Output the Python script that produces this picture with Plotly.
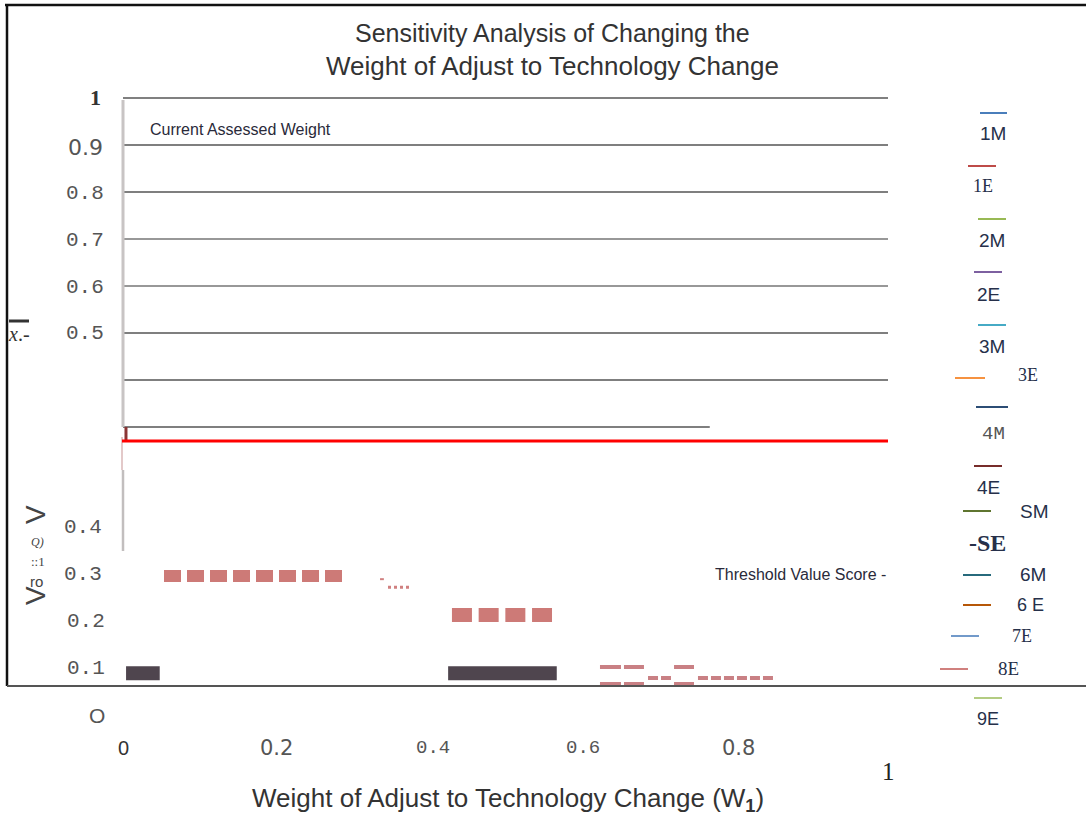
import plotly.graph_objects as go

# ---------------- data ----------------
# lower "score" axis series
bar_x = [0.004, 0.048, None, 0.425, 0.567]
bar_y = [0.089, 0.089, None, 0.089, 0.089]

row03_x = [0.0536, 0.2863]
row03_y = [0.2957, 0.2957]
tick_x = [0.336, 0.341]
tick_y = [0.289, 0.289]
dots_x = [0.3464, 0.3739]
dots_y = [0.272, 0.272]

row02_x = [0.430, 0.5608]
row02_y = [0.2128, 0.2128]

rowA_x = [0.6235, 0.6810, None, 0.7203, 0.7464]
rowA_y = [0.1021, 0.1021, None, 0.1021, 0.1021]
rowB_x = [0.6235, 0.6810, None, 0.7203, 0.7464]
rowB_y = [0.0660, 0.0660, None, 0.0660, 0.0660]
rowC_x = [0.6863, 0.7163, None, 0.7516, 0.8536]
rowC_y = [0.0787, 0.0787, None, 0.0787, 0.0787]

# upper grid axis series
grid_vals = [1.0, 0.9, 0.8, 0.7, 0.6, 0.5, 0.4]
grid_partial_val = 0.3
grid_partial_end = 0.767
current_weight = 0.0
vert_gray1 = [0.9957, 0.30]
vert_pink = [0.2787, 0.2085]
vert_gray2 = [0.2085, 0.0362]
vert_dark = [0.30, 0.2702]
red_level = 0.2702

legend_names = ["1M", "1E", "2M", "2E", "3M", "3E", "4M", "4E", "SM", "-SE",
                "6M", "6E", "7E", "8E", "9E"]
legend_colors = ["#4a7ebb", "#be4b48", "#98b954", "#7d60a0", "#46aac5", "#f69240",
                 "#2c4d75", "#772c2a", "#5f7530", None, "#276a7c", "#b65708",
                 "#729aca", "#d0807e", "#b3cc82"]

title_lines = ["Sensitivity Analysis of Changing the",
               "Weight of Adjust to Technology Change"]
x_title = "Weight of Adjust to Technology Change (W<sub><b>1</b></sub>)"

# ---------------- layout helpers ----------------
W, H = 1086, 817
X0PX, XSCALE = 123, 765
def xr():
    return [-X0PX / XSCALE, (W - X0PX) / XSCALE]
def yr(zero_px):
    return [(zero_px - H) / 470, zero_px / 470]

def px(x):
    return x / W
def py(y):
    return 1 - y / H

SANS = "Liberation Sans, Arial, sans-serif"
SERIF = "Liberation Serif, Times New Roman, serif"
MONO = "Liberation Mono, DejaVu Sans Mono, monospace"
DSANS = "DejaVu Sans, sans-serif"

fig = go.Figure()

def line(x, y, color, width, dash="solid", axis="y"):
    fig.add_trace(go.Scatter(x=x, y=y, mode="lines", yaxis=axis,
                             line=dict(color=color, width=width, dash=dash),
                             hoverinfo="skip", showlegend=False, connectgaps=False))

# upper gridlines
for i, v in enumerate(grid_vals):
    col = "#808080" if i == 0 else ("#333333" if i in (3, 4) else "#000000")
    w = 2.2 if i == 0 else 1.1
    line([0, 1], [v, v], col, w, axis="y2")
line([0, grid_partial_end], [grid_partial_val, grid_partial_val], "#555555", 1.5, axis="y2")

# verticals & red line
line([current_weight, current_weight], vert_gray1, "#c8c4c4", 3, axis="y2")
line([current_weight - 0.0013, current_weight - 0.0013], vert_pink, "#e3c9c9", 2, axis="y2")
line([current_weight, current_weight], vert_gray2, "#c2bebe", 2.5, axis="y2")
line([current_weight + 0.0039, current_weight + 0.0039], vert_dark, "#8b3535", 3, axis="y2")
line([current_weight - 0.0013, 1.0], [red_level, red_level], "#ff0000", 3, axis="y2")

# lower series
line(bar_x, bar_y, "#4f454e", 14)
line(row03_x, row03_y, "#cd7a77", 12, dash="17px,6px")
line(tick_x, tick_y, "#d08080", 2)
line(dots_x, dots_y, "#d08080", 3, dash="dot")
line(row02_x, row02_y, "#cd7a77", 14, dash="20px,6.7px")
line(rowA_x, rowA_y, "#c98084", 4, dash="21px,3px")
line(rowB_x, rowB_y, "#c98084", 4, dash="21px,3px")
line(rowC_x, rowC_y, "#c98084", 4, dash="10px,3px")

shapes = []
def seg(x0, y0, x1, y1, color, width):
    shapes.append(dict(type="line", xref="paper", yref="paper",
                       x0=px(x0), y0=py(y0), x1=px(x1), y1=py(y1),
                       line=dict(color=color, width=width)))

# frame
seg(5, 5, W, 5, "#111111", 2.5)
seg(7, 5, 7, 686, "#111111", 2.5)
seg(7, 686, W, 686, "#555555", 2)

annotations = []
def text(t, x, y, size, family=SANS, color="#555555", xanchor="center", angle=0):
    annotations.append(dict(text=t, x=px(x), y=py(y), xref="paper", yref="paper",
                            showarrow=False, xanchor=xanchor, yanchor="middle",
                            textangle=angle,
                            font=dict(size=size, family=family, color=color)))

# titles
text(title_lines[0], 552, 33, 25, color="#333333")
text(title_lines[1], 552, 66, 26, color="#333333")
text(x_title, 508, 799, 26, color="#333333")

# y tick labels
text("<b>1</b>", 95, 98, 22, SERIF, "#333333")
text("0.9", 85, 147, 22, DSANS, "#555555")
for lab, yy in zip(["0.8", "0.7", "0.6", "0.5"], [193, 240, 287, 333]):
    text(lab, 85, yy, 21, MONO, "#555555")
for lab, xx, yy in zip(["0.4", "0.3", "0.2", "0.1"], [83, 83, 86, 86], [527, 574, 621, 668]):
    text(lab, xx, yy, 21, MONO, "#555555")
text("O", 97, 715, 21, SANS, "#555555")

# x tick labels
text("0", 123, 748, 20, SANS, "#333333")
text("0.2", 276, 748, 21, DSANS, "#555555")
text("0.4", 433, 748, 19, MONO, "#555555")
text("0.6", 583, 748, 19, MONO, "#555555")
text("0.8", 738, 748, 21, DSANS, "#555555")
text("1", 888, 771, 25, SERIF, "#222222")

# garbled y title
text("V", 35, 515, 28, SANS, "#444444", angle=-90)
text("<i>Q)</i>", 37, 542, 12, SERIF, "#444444")
text("::1", 38, 561, 13, SERIF, "#444444")
text("ro", 36, 581, 15, SANS, "#444444")
text("V", 35, 596, 28, SANS, "#444444", angle=-90)
text("<i>x</i>.-", 19, 334, 20, SERIF, "#333333")
seg(9, 321, 29, 321, "#333333", 3)

# inner labels
text("Current Assessed Weight", 148, 129, 16, SANS, "#2a2a3a", xanchor="left")
text("Threshold Value Score -", 888, 574, 16, SANS, "#2a2a3a", xanchor="right")

# legend
leg_lines = [(980, 1007, 113), (968, 996, 166), (978, 1006, 219), (974, 1002, 272),
             (978, 1006, 325), (955, 985, 378), (976, 1008, 407), (974, 1002, 466),
             (963, 991, 511), None, (963, 991, 575), (963, 991, 605),
             (951, 979, 636), (940, 968, 669), (974, 1002, 698)]
leg_labels = [(993, 133, SANS, 19), (983, 186, SERIF, 18), (992, 240, SANS, 19),
              (988, 294, SANS, 19), (992, 346, SANS, 19), (1028, 375, SERIF, 18),
              (993, 434, MONO, 19), (988, 487, SANS, 19), (1034, 511, SANS, 19),
              (987, 543, SERIF, 24), (1033, 574, SANS, 19), (1030, 605, SANS, 18),
              (1022, 636, SERIF, 18), (1008, 668, SERIF, 19), (988, 719, SANS, 18)]
for name, col, ln, lb in zip(legend_names, legend_colors, leg_lines, leg_labels):
    if ln is not None and col is not None:
        seg(ln[0], ln[2], ln[1], ln[2], col, 2)
    t = name
    if name == "-SE":
        t = "<b>-SE</b>"
    if name == "6E":
        t = "6 E"
    color = "#555555" if name == "4M" else "#26304a"
    text(t, lb[0], lb[1], lb[3], lb[2], color)

fig.update_layout(
    width=W, height=H,
    margin=dict(l=0, r=0, t=0, b=0),
    paper_bgcolor="white", plot_bgcolor="white",
    xaxis=dict(range=xr(), visible=False, fixedrange=True),
    yaxis=dict(range=yr(715), visible=False, fixedrange=True),
    yaxis2=dict(range=yr(568), visible=False, overlaying="y", fixedrange=True),
    shapes=shapes, annotations=annotations, showlegend=False,
)

fig.write_html("out.html", config={"displayModeBar": False},
               post_script="document.body.style.margin='0px';document.body.style.overflow='hidden';")
